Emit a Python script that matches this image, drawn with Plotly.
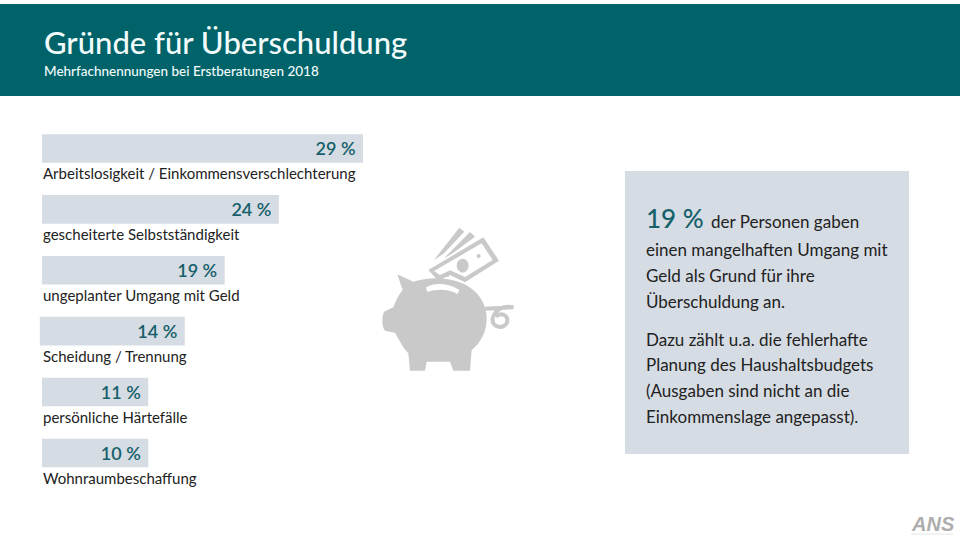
import plotly.graph_objects as go

W, H = 960, 540
title = "Gründe für Überschuldung"
subtitle = "Mehrfachnennungen bei Erstberatungen 2018"
categories = ["Arbeitslosigkeit / Einkommensverschlechterung", "gescheiterte Selbstständigkeit",
              "ungeplanter Umgang mit Geld", "Scheidung / Trennung", "persönliche Härtefälle",
              "Wohnraumbeschaffung"]
percent_labels = [29, 24, 19, 14, 11, 10]
# the drawn bars are not proportional to their labels; lengths
drawn_lengths = [29.0, 21.4, 16.5, 13.1, 9.6, 9.6]
drawn_starts = [0, 0, 0, -0.2, 0, 0]
box_head_value = "19 %"
box_head_text = "der Personen gaben"
box_lines = ["einen mangelhaften Umgang mit", "Geld als Grund für ihre", "Überschuldung an.",
             "Dazu zählt u.a. die fehlerhafte", "Planung des Haushaltsbudgets",
             "(Ausgaben sind nicht an die", "Einkommenslage angepasst)."]

FONT = "Lato"
TEAL = "#00636a"
BAR = "#d6dce4"
INK = "#222222"
GREY = "#c9c9c9"
ppu = 321 / 29
x0_px = 42


def px(x):
    return x / W


def py(y):
    return 1 - y / H


def z(zx, zy):
    return f"{px(370 + zx / 3):.5f},{py(210 + zy / 3):.5f}"


def path(*items):
    out = []
    for it in items:
        if isinstance(it, str):
            out.append(it)
        else:
            out.append(z(*it))
    return " ".join(out)


fig = go.Figure(go.Bar(
    y=list(range(len(categories))), x=drawn_lengths, base=drawn_starts, orientation="h", width=0.47,
    marker=dict(color=BAR, line=dict(width=0)),
    text=[f"{v} %\u00a0" for v in percent_labels], textposition="inside", insidetextanchor="end",
    textangle=0, constraintext="none",
    textfont=dict(family=FONT, size=18, color="#15606a", weight=600), hoverinfo="skip"))


def rect(x0, y0, x1, y1, color):
    return dict(type="rect", xref="paper", yref="paper", x0=px(x0), x1=px(x1), y0=py(y0), y1=py(y1),
                fillcolor=color, line=dict(width=0), layer="below")


def shp(p, fill=GREY, line=None, width=0):
    d = dict(type="path", xref="paper", yref="paper", path=p, layer="above", line=dict(width=width, color=line or fill))
    d["fillcolor"] = fill if fill else "rgba(0,0,0,0)"
    return d


body = path("M", (82, 193), "L", (130, 215), "C", (185, 198), (260, 200), (310, 240), "C", (335, 262), (348, 290), (350, 320),
            "C", (352, 365), (330, 400), (305, 420), "L", (300, 482), "L", (250, 482), "L", (240, 455),
            "L", (170, 455), "L", (165, 482), "L", (120, 482), "L", (115, 430), "C", (100, 415), (85, 385), (75, 368),
            "L", (45, 362), "C", (35, 350), (35, 320), (42, 305), "L", (70, 292), "C", (80, 265), (90, 250), (98, 240), "Z")
slot = path("M", (168, 232), "C", (195, 215), (240, 220), (268, 240), "L", (262, 252), "C", (235, 236), (200, 236), (172, 246), "Z")
tail = path("M", (345, 296), "L", (430, 292), "C", (400, 285), (375, 300), (368, 325), "C", (365, 350), (395, 360), (410, 340),
            "C", (420, 315), (390, 305), (378, 320))
bill_front = path("M", (175, 180), "L", (340, 82), "L", (387, 152), "L", (285, 217), "L", (240, 195), "L", (205, 213), "Z")
bill_inner = path("M", (192, 183), "L", (335, 100), "L", (368, 150), "L", (285, 201), "L", (240, 181), "L", (210, 195), "Z")
bill_back1 = path("M", (192, 150), "L", (268, 53), "L", (283, 65), "L", (222, 130), "Z")
bill_back2 = path("M", (222, 145), "L", (300, 66), "L", (315, 80), "L", (245, 132), "Z")


def dot(cx, cy, rx, ry, fill):
    return dict(type="circle", xref="paper", yref="paper", x0=px(370 + (cx - rx) / 3), x1=px(370 + (cx + rx) / 3),
                y0=py(210 + (cy + ry) / 3), y1=py(210 + (cy - ry) / 3), fillcolor=fill, line=dict(width=0), layer="above")


shapes = [rect(0, 4, 960, 96, TEAL), rect(625, 171, 909, 454, BAR),
          shp(bill_back1), shp(bill_back2), shp(bill_front), shp(bill_inner, "#ffffff"),
          dot(278, 167, 18, 21, GREY), dot(326, 138, 6, 6, GREY), dot(232, 195, 6, 6, GREY),
          shp(tail, "", GREY, 4), shp(body), shp(slot, "#ffffff"),
          dict(type="line", xref="paper", yref="paper", x0=px(911), x1=px(953), y0=py(534), y1=py(534),
               line=dict(color="#e6e6e6", width=1), layer="above")]


def txt(x, y, s, size, color=INK, weight=400, font=FONT, style="normal"):
    return dict(xref="paper", yref="paper", x=px(x - 2), y=py(y), text=s, showarrow=False, xanchor="left", yanchor="middle",
                align="left", font=dict(family=font, size=size, color=color, weight=weight, style=style))


ann = [txt(44, 42, title, 31, "#f2fbfb", 500), txt(44, 71, subtitle, 13.5, "#f2fbfb", 500)]
for i, c in enumerate(categories):
    ann.append(dict(xref="paper", yref="y", x=px(41), y=i, yshift=-25, text=c, showarrow=False, xanchor="left", yanchor="middle",
                    font=dict(family=FONT, size=15, color=INK)))
ann += [txt(646, 218, box_head_value, 26, "#15606a", 500), txt(711, 221.5, box_head_text, 17)]
for yy, s in zip([249.5, 275.5, 301.5, 339.5, 364.5, 390.5, 416.5], box_lines):
    ann.append(txt(646, yy, s, 17))
ann.append(txt(911, 524, "ANS", 20, "#adadad", 700, "Liberation Sans", "italic"))

fig.update_layout(
    width=W, height=H, margin=dict(l=0, r=0, t=0, b=0), paper_bgcolor="white", plot_bgcolor="rgba(0,0,0,0)",
    showlegend=False, shapes=shapes, annotations=ann,
    xaxis=dict(domain=[0, 1], range=[-x0_px / ppu, (W - x0_px) / ppu], visible=False),
    yaxis=dict(domain=[py(483.4), py(118)], range=[5.5, -0.5], visible=False))
fig.write_html("out.html", config={"displayModeBar": False}, post_script="document.body.style.margin='0';")
